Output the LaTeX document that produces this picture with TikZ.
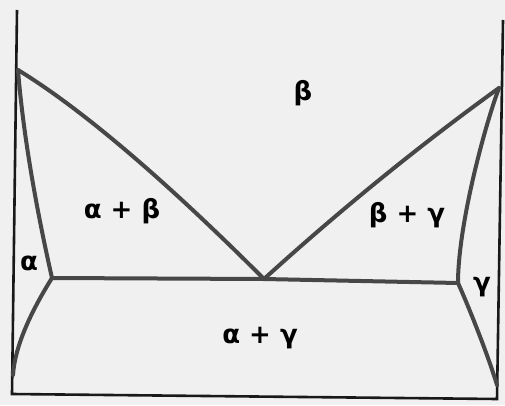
\documentclass[tikz,border=0pt]{standalone}
\usepackage{fontspec}
\setmainfont{DejaVu Sans}
\usepackage{tikz}
\usetikzlibrary{positioning}

\begin{document}
\begin{tikzpicture}[
  x=1pt, y=1pt,
  every node/.style={inner sep=1pt, font=\fontsize{26}{28}\selectfont\bfseries},
  frameline/.style={draw=black!90, line width=2.6pt},
  phaseline/.style={draw=black!72, line width=4pt, line join=round, line cap=round}]

% ------------------------- page and frame ----------------------------
\useasboundingbox[fill=black!6] (0,0) rectangle (505,405);
\coordinate (topL) at (17,395);
\coordinate (botL) at (12,11);
\coordinate (topR) at (503,385);
\coordinate (botR) at (497,6);
\draw[frameline] (topL) -- (botL) -- (botR) -- (topR);

% ------------------------- the special points ------------------------
\coordinate (meltA) at (18,335);   % melting point of the left side
\coordinate (meltB) at (499,317);  % melting point of the right side
\coordinate (eutL)  at (52,127);
\coordinate (eut)   at (264,126);
\coordinate (eutR)  at (458,122);
\coordinate (solvA) at (13,30);
\coordinate (solvB) at (497,20);

% ------------------------- the phase boundaries ----------------------
\draw[phaseline] (meltA) .. controls (100,285) and (200,190) .. (eut);
\draw[phaseline] (eut) .. controls (340,195) and (420,260) .. (meltB);
\draw[phaseline] (meltA) .. controls (24,260) and (40,180) .. (eutL);
\draw[phaseline] (eutL) .. controls (32,95) and (15,60) .. (solvA);
\draw[phaseline] (meltB) .. controls (485,280) and (458,180) .. (eutR);
\draw[phaseline] (eutR) .. controls (468,100) and (488,50) .. (solvB);
\draw[phaseline] (eutL) -- (eut) -- (eutR);

% ------------------------- the fields --------------------------------
\node (beta)      at (303,312) {β};
\node (alphabeta) at (122,194) {α + β};
\node (betagamma) at (407,190) {β + γ};
\node (alpha)     at (29,142)  {α};
\node (gamma)     at (482,118) {γ};
\node (alphagamma) at (260,67) {α + γ};

\end{tikzpicture}
\end{document}
